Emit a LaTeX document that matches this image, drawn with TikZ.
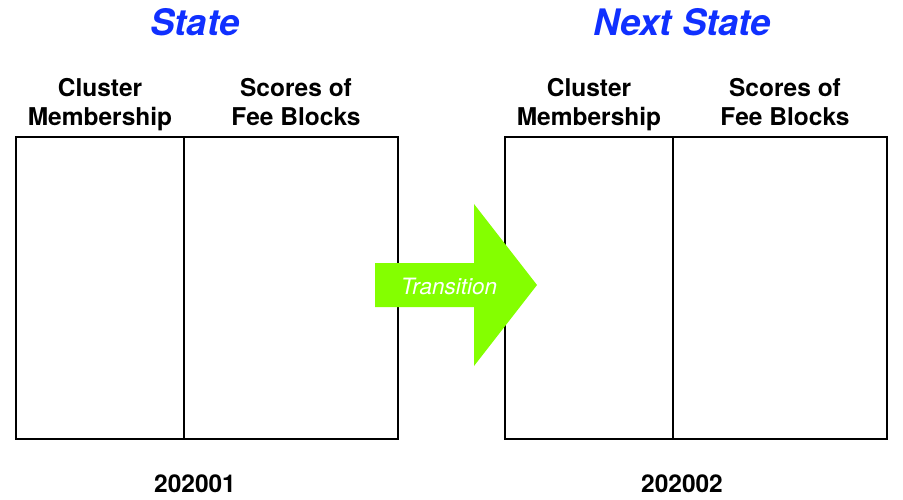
\documentclass[tikz,border=0pt]{standalone}
\usepackage{fontspec}
\setmainfont{TeX Gyre Heros}
\definecolor{titleblue}{RGB}{16,48,255}
\definecolor{arrowgreen}{RGB}{132,255,0}
\begin{document}
\begin{tikzpicture}[x=1pt,y=-1pt,
  boxline/.style={draw=black,line width=2pt},
  hdr/.style={font=\fontsize{24.5}{29}\selectfont\bfseries,anchor=base,inner sep=0pt},
  ttl/.style={font=\fontsize{36.5}{40}\selectfont\bfseries\itshape,text=titleblue,anchor=base,inner sep=0pt},
  lbl/.style={font=\fontsize{24.5}{26}\selectfont\bfseries,anchor=base,inner sep=0pt}]
\useasboundingbox (0,0) rectangle (903,500);
% left state
\node[ttl] (t1) at (195,36) {State};
\node[hdr] (h1a) at (100,97) {Cluster};
\node[hdr] (h1a2) at (100,126) {Membership};
\node[hdr] (h1b) at (296,97) {Scores of};
\node[hdr] (h1b2) at (296,126) {Fee Blocks};
\draw[boxline] (16,137) rectangle (398,439);
\draw[boxline] (184,137) -- (184,439);
\node[lbl] (y1) at (195,492) {202001};
% right state
\node[ttl] (t2) at (682,36) {Next State};
\node[hdr] (h2a) at (589,97) {Cluster};
\node[hdr] (h2a2) at (589,126) {Membership};
\node[hdr] (h2b) at (785,97) {Scores of};
\node[hdr] (h2b2) at (785,126) {Fee Blocks};
\draw[boxline] (505,137) rectangle (887,439);
\draw[boxline] (673,137) -- (673,439);
\node[lbl] (y2) at (682,492) {202002};
% arrow
\fill[arrowgreen] (375,263) -- (474,263) -- (474,204) -- (537,285) -- (474,366) -- (474,307) -- (375,307) -- cycle;
\node[font=\fontsize{22.5}{24}\selectfont\itshape,text=white,anchor=base,inner sep=0pt] (tr) at (449,294) {Transition};
\end{tikzpicture}
\end{document}
